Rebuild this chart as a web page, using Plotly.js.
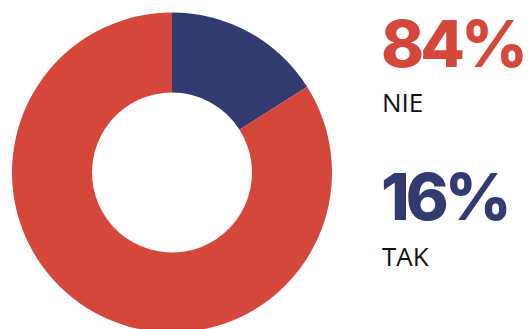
<!DOCTYPE html>
<html>
<head>
<meta charset="utf-8">
<script src="https://cdn.plot.ly/plotly-3.0.1.min.js"></script>
<style>
html,body{margin:0;padding:0;overflow:hidden;background:#fff;}
#chart{width:531px;height:340px;}
</style>
</head>
<body>
<div id="chart"></div>
<script>
const labels = ['TAK', 'NIE'];
const values = [16, 84];
const colors = ['#323B70', '#D6473B'];

const H = 340;
const trace = {
  type: 'pie',
  labels: labels,
  values: values,
  sort: false,
  direction: 'clockwise',
  rotation: 0,
  hole: 0.5,
  textinfo: 'none',
  hoverinfo: 'none',
  marker: {colors: colors, line: {width: 0}},
  domain: {x: [12/531, 332/531], y: [(H-332.5)/H, (H-12.5)/H]}
};

// right-side labels: NIE first (top), TAK below
const order = [1, 0];
const pctY = [44, 197];
const lblY = [101.5, 255.5];
const annotations = [];
order.forEach((i, k) => {
  annotations.push({
    xref: 'paper', yref: 'paper', x: 373/531, y: (H - pctY[k]) / H,
    xanchor: 'left', yanchor: 'middle', showarrow: false,
    text: values[i] + '%',
    font: {family: 'Inter', size: 65, weight: 800, color: colors[i]}
  });
  annotations.push({
    xref: 'paper', yref: 'paper', x: 380/531, y: (H - lblY[k]) / H,
    xanchor: 'left', yanchor: 'middle', showarrow: false,
    text: labels[i],
    font: {family: 'Open Sans', size: 26, color: '#111111'}
  });
});

Plotly.newPlot('chart', [trace], {
  width: 531, height: H,
  margin: {l: 0, r: 0, t: 0, b: 0},
  showlegend: false,
  paper_bgcolor: '#ffffff',
  annotations: annotations
}, {staticPlot: true}).then(() => {
  document.querySelectorAll('#chart .annotation-text').forEach(t => {
    if (parseFloat(t.style.fontSize) > 40) t.style.letterSpacing = '-4px';
  });
});
</script>
</body>
</html>
